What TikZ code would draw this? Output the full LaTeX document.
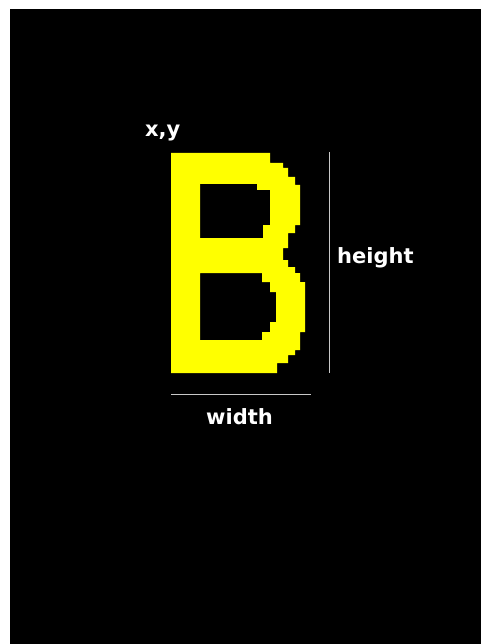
\documentclass[tikz,border=0pt]{standalone}
\usepackage{fontspec}
\newfontfamily\labelfont{DejaVu Sans}
\definecolor{letteryellow}{HTML}{FFFF00}
\definecolor{dimgray}{HTML}{C8C8C8}
\begin{document}
\begin{tikzpicture}[x=1pt,y=-1pt,
  dimlabel/.style={text=white,font=\labelfont\bfseries\fontsize{21}{25}\selectfont,inner sep=0pt,anchor=base west},
  dimline/.style={draw=dimgray,line width=1.5pt}]
\useasboundingbox (0,0) rectangle (481,644);
\fill[white] (0,0) rectangle (481,644);
\fill[black] (10,9) rectangle (481,644);
% the letter B
\fill[letteryellow,even odd rule]
  (171,153) -- (270,153) -- (270,163) -- (283,163) -- (283,168) -- (288,168) -- (288,177) -- (295,177) -- (295,185) -- (300,185) -- (300,225) -- (295,225) -- (295,233) -- (288,233) -- (288,248) -- (283,248) -- (283,260) -- (288,260) -- (288,267) -- (295,267) -- (295,273) -- (300,273) -- (300,282) -- (305,282) -- (305,332) -- (300,332) -- (300,350) -- (295,350) -- (295,355) -- (288,355) -- (288,363) -- (277,363) -- (277,373) -- (171,373) -- cycle
  (200,184) -- (257,184) -- (257,190) -- (270,190) -- (270,225) -- (263,225) -- (263,238) -- (200,238) -- cycle
  (200,273) -- (262,273) -- (262,282) -- (270,282) -- (270,292) -- (276,292) -- (276,322) -- (270,322) -- (270,332) -- (262,332) -- (262,340) -- (200,340) -- cycle;
% dimension lines
\coordinate (htop) at (329.5,152);
\coordinate (hbot) at (329.5,373);
\coordinate (wleft) at (171,394.5);
\coordinate (wright) at (311,394.5);
\draw[dimline] (htop) -- (hbot);
\draw[dimline] (wleft) -- (wright);
% labels
\node[dimlabel] (xy) at (145,137) {x,y};
\node[dimlabel] (height) at (337,263) {height};
\node[dimlabel] (width) at (206,424) {width};
\end{tikzpicture}
\end{document}
